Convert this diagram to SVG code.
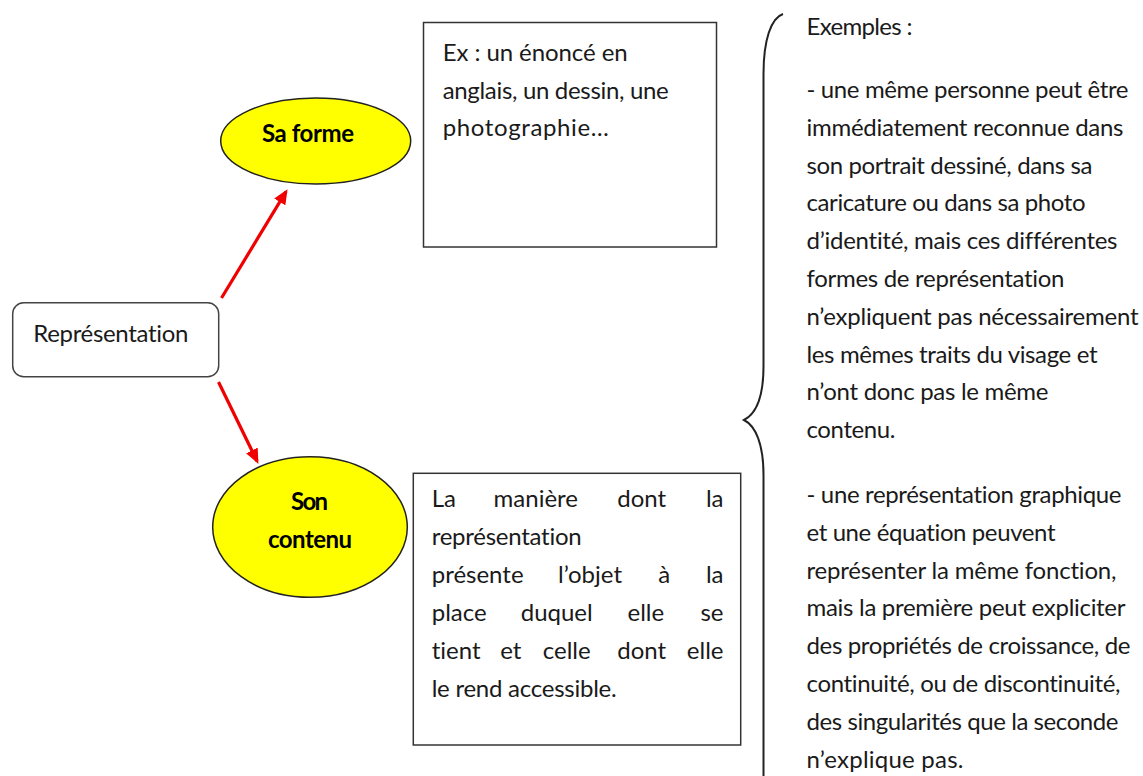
<svg xmlns="http://www.w3.org/2000/svg" width="1143" height="776" viewBox="0 0 1143 776">
<defs>
<style>
.t{font-family:Lato,"Open Sans","Liberation Sans",sans-serif;font-size:24px;fill:#1a1a1a;font-variant-ligatures:none}
.b{font-weight:bold;fill:#000;text-anchor:middle}
.m{text-anchor:middle}
.r{text-anchor:end}
.e{fill:#ffff00;stroke:#222;stroke-width:1.5}
.box{fill:#fff;stroke:#333;stroke-width:1.5}
.arr{stroke:#f00000;stroke-width:3.2;fill:none;marker-end:url(#ah)}
</style>
<marker id="ah" markerUnits="userSpaceOnUse" markerWidth="16" markerHeight="14" refX="12" refY="6.5" orient="auto">
<path d="M0,0 L15,6.5 L0,13 z" fill="#f00000"/>
</marker>
</defs>
<rect width="1143" height="776" fill="#fff"/>

<g id="connectors">
<line class="arr" x1="221.5" y1="298" x2="286" y2="191.7"/>
<line class="arr" x1="218.5" y1="382" x2="257.1" y2="461.2"/>
</g>

<g id="representation">
<rect class="box" x="12.7" y="302.7" width="206" height="74" rx="11" ry="11" style="stroke:#444"/>
<text class="t" x="33.3" y="341.7" textLength="155" lengthAdjust="spacing">Représentation</text>
</g>

<g id="sa-forme">
<ellipse class="e" cx="315.7" cy="141" rx="95" ry="43"/>
<text class="t b" x="308" y="141.7" textLength="92" lengthAdjust="spacing">Sa forme</text>
</g>

<g id="son-contenu">
<ellipse class="e" cx="310" cy="527" rx="97.3" ry="70.3"/>
<text class="t b" x="309.5" y="510" textLength="37" lengthAdjust="spacing">Son</text>
<text class="t b" x="310" y="548.3" textLength="84" lengthAdjust="spacing">contenu</text>
</g>

<g id="forme-exemple">
<rect class="box" x="423.5" y="22.5" width="293" height="224.5"/>
<text class="t" x="442.7" y="60.7" textLength="185" lengthAdjust="spacing">Ex : un énoncé en</text>
<text class="t" x="442.7" y="98.5" textLength="226" lengthAdjust="spacing">anglais, un dessin, une</text>
<text class="t" x="442.7" y="136.3" textLength="166" lengthAdjust="spacing">photographie…</text>
</g>

<g id="contenu-definition">
<rect class="box" x="413.3" y="473.3" width="327.4" height="271.7"/>
<g class="t">
<text x="431.7" y="507">La</text>
<text class="m" x="535.8" y="507">manière</text>
<text class="m" x="641.7" y="507">dont</text>
<text class="r" x="723.5" y="507">la</text>
<text x="431.7" y="545" textLength="150" lengthAdjust="spacing">représentation</text>
<text x="431.7" y="583">présente</text>
<text class="m" x="590" y="583">l’objet</text>
<text class="m" x="664.2" y="583">à</text>
<text class="r" x="723.5" y="583">la</text>
<text x="431.7" y="621">place</text>
<text class="m" x="556.7" y="621">duquel</text>
<text class="m" x="645.8" y="621">elle</text>
<text class="r" x="723.5" y="621">se</text>
<text x="431.7" y="659">tient</text>
<text class="m" x="510.8" y="659">et</text>
<text class="m" x="566.7" y="659">celle</text>
<text class="m" x="641.7" y="659">dont</text>
<text class="r" x="723.5" y="659">elle</text>
<text x="431.7" y="697" textLength="185" lengthAdjust="spacing">le rend accessible.</text>
</g>
</g>

<g id="brace">
<path d="M783,14 C771,18 763.5,40 763.5,74 L763.5,366 C763.5,396 756,414 744,420 C756,426 763.5,445 763.5,475 L763.5,776" fill="none" stroke="#222" stroke-width="2"/>
</g>

<g id="exemples" class="t">
<text x="806.5" y="35" textLength="106" lengthAdjust="spacing">Exemples :</text>
<text x="806.5" y="98" textLength="322" lengthAdjust="spacing">- une même personne peut être</text>
<text x="806.5" y="135.8" textLength="317" lengthAdjust="spacing">immédiatement reconnue dans</text>
<text x="806.5" y="173.6" textLength="286" lengthAdjust="spacing">son portrait dessiné, dans sa</text>
<text x="806.5" y="211.4" textLength="279" lengthAdjust="spacing">caricature ou dans sa photo</text>
<text x="806.5" y="249.2" textLength="311" lengthAdjust="spacing">d’identité, mais ces différentes</text>
<text x="806.5" y="287" textLength="258" lengthAdjust="spacing">formes de représentation</text>
<text x="806.5" y="324.8" textLength="332" lengthAdjust="spacing">n’expliquent pas nécessairement</text>
<text x="806.5" y="362.6" textLength="291" lengthAdjust="spacing">les mêmes traits du visage et</text>
<text x="806.5" y="400.4" textLength="242" lengthAdjust="spacing">n’ont donc pas le même</text>
<text x="806.5" y="438.2" textLength="89" lengthAdjust="spacing">contenu.</text>
<text x="806.5" y="503" textLength="315" lengthAdjust="spacing">- une représentation graphique</text>
<text x="806.5" y="540.8" textLength="249" lengthAdjust="spacing">et une équation peuvent</text>
<text x="806.5" y="578.6" textLength="310" lengthAdjust="spacing">représenter la même fonction,</text>
<text x="806.5" y="616.4" textLength="319" lengthAdjust="spacing">mais la première peut expliciter</text>
<text x="806.5" y="654.2" textLength="324" lengthAdjust="spacing">des propriétés de croissance, de</text>
<text x="806.5" y="692" textLength="314" lengthAdjust="spacing">continuité, ou de discontinuité,</text>
<text x="806.5" y="729.8" textLength="312" lengthAdjust="spacing">des singularités que la seconde</text>
<text x="806.5" y="767.6" textLength="157" lengthAdjust="spacing">n’explique pas.</text>
</g>
</svg>
